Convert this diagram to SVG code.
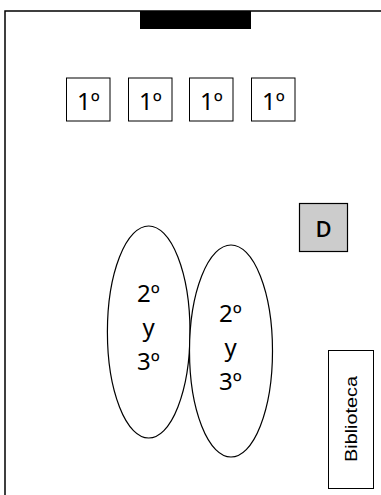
<svg xmlns="http://www.w3.org/2000/svg" width="381" height="495" viewBox="0 0 381 495">
<style>
.frame{fill:none;stroke:#000;stroke-width:1.5}
.box{fill:#fff;stroke:#000;stroke-width:1}
.ell{fill:#fff;stroke:#000;stroke-width:1.2}
.t{font-family:"Noto Sans","Open Sans",sans-serif;font-size:24px;fill:#000;text-anchor:middle}
.d{font-family:"Open Sans","Noto Sans",sans-serif;font-size:22px;font-weight:600;fill:#000;text-anchor:middle}
.b{font-family:"Liberation Sans",Arial,sans-serif;font-size:16px;fill:#000;text-anchor:middle}
</style>
<rect width="381" height="495" fill="#fff"/>
<g id="room"><rect class="frame" x="5" y="11" width="390" height="500"/></g>
<g id="board"><rect x="140" y="11" width="111" height="18" fill="#000"/></g>
<g id="desk1"><rect class="box" x="66.5" y="78" width="43.5" height="43"/><text class="t" x="88.5" y="110">1º</text></g>
<g id="desk2"><rect class="box" x="128.5" y="78" width="43.5" height="43"/><text class="t" x="150.5" y="110">1º</text></g>
<g id="desk3"><rect class="box" x="189.5" y="78" width="43.5" height="43"/><text class="t" x="211.5" y="110">1º</text></g>
<g id="desk4"><rect class="box" x="251.5" y="78" width="43.5" height="43"/><text class="t" x="273.5" y="110">1º</text></g>
<g id="teacher"><rect x="299.5" y="203.5" width="48" height="48" fill="#ccc" stroke="#000" stroke-width="1.2"/><text class="d" x="323.5" y="236.5">D</text></g>
<g id="group1"><ellipse class="ell" cx="148.7" cy="332" rx="41.3" ry="106"/><text class="t" x="148.5" y="302">2º</text><text class="t" x="148.5" y="336">y</text><text class="t" x="148.5" y="370">3º</text></g>
<g id="group2"><ellipse class="ell" cx="231" cy="351" rx="41.5" ry="106"/><text class="t" x="230.5" y="322">2º</text><text class="t" x="230.5" y="356">y</text><text class="t" x="230.5" y="390">3º</text></g>
<g id="library"><rect class="box" x="328.5" y="350.5" width="45" height="138"/><text class="b" transform="translate(357,419) rotate(-90)" x="0" y="0" textLength="86" lengthAdjust="spacingAndGlyphs">Biblioteca</text></g>
</svg>
